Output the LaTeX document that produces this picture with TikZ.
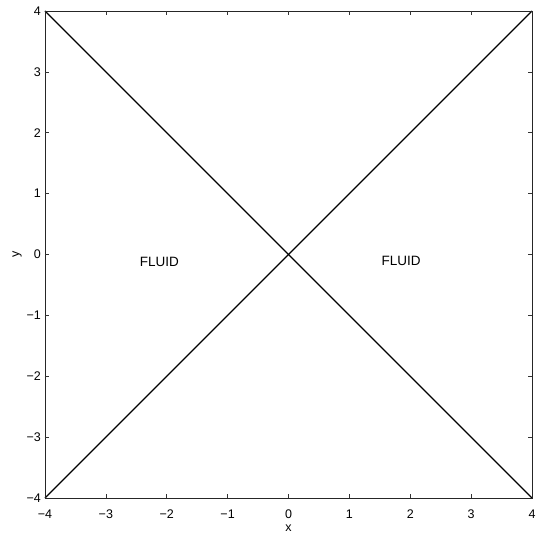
\documentclass[tikz,border=0pt]{standalone}
\usepackage{fontspec}
\setmainfont{Liberation Sans}
\begin{document}
\begin{tikzpicture}[x=60.875pt,y=60.875pt,
  axisline/.style={line width=0.9pt,black!85},
  diag/.style={line width=1.2pt,black},
  tick/.style={line width=0.7pt,black!80},
  ticklbl/.style={font=\fontsize{12.5}{14}\selectfont,inner sep=0pt},
  lbl/.style={font=\fontsize{13.5}{15}\selectfont,inner sep=0pt}]
\useasboundingbox (-288.5pt,254.5pt) rectangle (249.5pt,-281.5pt);
% corners
\coordinate (bl) at (-4,-4);
\coordinate (br) at (4,-4);
\coordinate (tr) at (4,4);
\coordinate (tl) at (-4,4);
% diagonals
\draw[diag] (tl) -- (br);
\draw[diag] (bl) -- (tr);
% box
\draw[axisline] (bl) -- (br) -- (tr) -- (tl) -- cycle;
% ticks
\foreach \t in {-3,...,3}{
  \draw[tick] (\t,-4) -- ++(0,4pt);
  \draw[tick] (\t,4) -- ++(0,-4pt);
  \draw[tick] (-4,\t) -- ++(4pt,0);
  \draw[tick] (4,\t) -- ++(-4pt,0);
}
% tick labels
\foreach \t/\s in {-4/−4,-3/−3,-2/−2,-1/−1,0/0,1/1,2/2,3/3,4/4}{
  \node[ticklbl] (xl\t) at ([yshift=-16pt]\t,-4) {\s};
  \node[ticklbl,anchor=east] (yl\t) at ([xshift=-4pt]-4,\t) {\s};
}
\node[ticklbl] (xlab) at ([yshift=-30pt]0,-4) {x};
\node[ticklbl,rotate=90] (ylab) at ([xshift=-28pt]-4,0) {y};
\node[lbl] (f1) at (-2.12,-0.125) {FLUID};
\node[lbl] (f2) at (1.85,-0.11) {FLUID};
\end{tikzpicture}
\end{document}
